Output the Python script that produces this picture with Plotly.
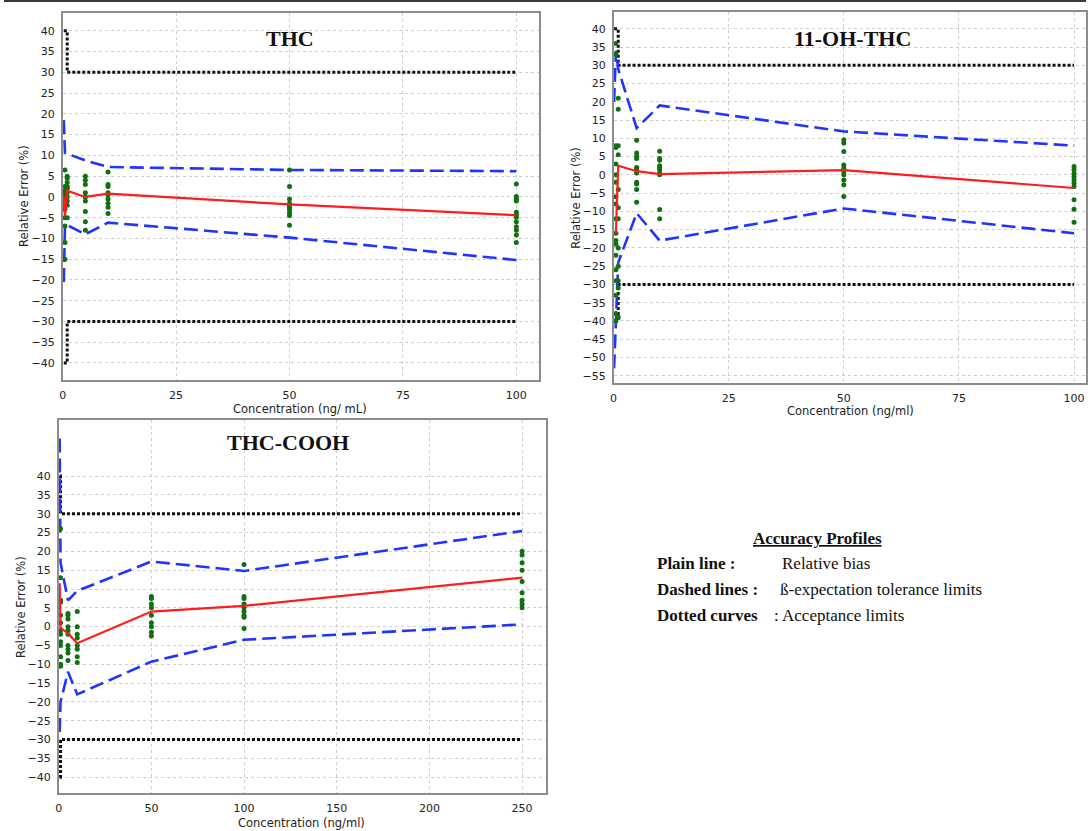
import plotly.graph_objects as go

# ---------------- THC ----------------
thc_levels = [0.25, 0.5, 1, 5, 10, 50, 100]
thc_bias = [0.0, -4.7, 1.5, 0.0, 0.8, -1.8, -4.4]
thc_upper = [18.5, 10.6, 10.4, 8.8, 7.2, 6.5, 6.2]
thc_lower = [-20.5, -7.2, -6.8, -9.0, -6.2, -9.8, -15.2]
thc_accept = [40, 40, 30, 30, 30, 30, 30]
thc_obs_levels = [0.5, 1, 5, 10, 50, 100]
thc_obs = [
    [6.5, 2.5, 1.5, 1, 0, -1, -2, -3, -5, -7, -11, -15],
    [5, 4.5, 3.5, 2.5, 2, 1, 0, -1, -2, -5],
    [5, 4, 3, 1, 0, -1, -3.5, -6, -8],
    [6, 3, 2.5, 1, 0.5, -0.5, -1.5, -2.5, -4],
    [6.5, 2.5, -0.5, -1.5, -2, -2.5, -3, -3.8, -4.5, -6.8],
    [3.1, 0.1, -0.5, -1, -3.7, -4.3, -4.9, -6, -7.2, -8, -9.2, -11],
]

# ---------------- 11-OH-THC ----------------
oh_levels = [0.1, 0.5, 1, 5, 10, 50, 100]
oh_bias = [None, -16, 2.5, 1.0, 0.2, 1.3, -3.6]
oh_upper = [20, 34, 29, 12.8, 19, 11.9, 8]
oh_lower = [-53, -41, -24, -10.5, -18, -9.2, -16]
oh_accept = [40, 40, 30, 30, 30, 30, 30]
oh_obs_levels = [0.5, 1, 5, 10, 50, 100]
oh_obs = [
    [36, 33, 8, 7.5, 3, 0, -2, -6, -8, -12, -16, -18, -19, -22, -26, -29, -33, -38, -40],
    [21, 18, 8, 5.5, -4, -9, -12, -20, -25, -29, -31, -39],
    [9.5, 6, 5, 4.5, 2, 1.5, 0.5, -2, -2.5, -4, -7.5],
    [6.5, 4.5, 4, 2.5, 2, 1.5, 0.5, 0, -9.5, -12],
    [9.6, 8.7, 6.4, 2.7, 1.8, 0.9, 0, -1.4, -2.7, -5.9],
    [2.3, 1.4, 0.4, -0.5, -1.4, -2.3, -3.2, -6.8, -9.4, -13],
]

# ---------------- THC-COOH ----------------
cooh_levels = [0.5, 1, 5, 10, 50, 100, 250]
cooh_bias = [11.5, -0.3, -1.8, -4.4, 4.0, 5.5, 13.0]
cooh_upper = [50, 17, 7, 9.5, 17.3, 14.8, 25.4]
cooh_lower = [-28, -20, -12, -18, -9.3, -3.5, 0.6]
cooh_accept = [40, 30, 30, 30, 30, 30, 30]
cooh_obs_levels = [1, 5, 10, 50, 100, 250]
cooh_obs = [
    [26, 13, 7, 6.5, 3, 1, -1, -2, -4, -5, -8, -10, -10.5],
    [3.5, 3, 2, 0, -1, -2, -5, -6, -7, -9],
    [4, 0, -2, -3, -5, -6, -8, -9.5],
    [8, 7.5, 6, 5, 3, 1, 0, -1.5, -2.5],
    [16.5, 8, 7.5, 6, 5, 4, 3, 2.5, -0.5],
    [20, 19, 17, 15, 12, 9, 7, 6, 5],
]

W, H = 1088, 831
RED = "#ff1c1c"
BLUE = "#1f35ff"
GREEN = "#107010"

fig = go.Figure()


def add_panel(xr, yr, levels, bias, upper, lower, accept, obs_levels, obs):
    # acceptance limits (dotted)
    for sign in (1, -1):
        fig.add_trace(go.Scatter(
            x=levels, y=[sign * a for a in accept], mode="lines",
            line=dict(color="#111111", width=3, dash="3px,2px", shape="hv"),
            xaxis=xr, yaxis=yr, hoverinfo="skip"))
    # tolerance limits (dashed)
    for lim in (upper, lower):
        fig.add_trace(go.Scatter(
            x=levels, y=lim, mode="lines",
            line=dict(color=BLUE, width=2.6, dash="14px,6px"),
            xaxis=xr, yaxis=yr, hoverinfo="skip"))
    # individual results
    px, py = [], []
    for lv, vals in zip(obs_levels, obs):
        px += [lv] * len(vals)
        py += vals
    fig.add_trace(go.Scatter(
        x=px, y=py, mode="markers",
        marker=dict(color=GREEN, size=5),
        xaxis=xr, yaxis=yr, hoverinfo="skip"))
    # relative bias
    fig.add_trace(go.Scatter(
        x=levels, y=bias, mode="lines",
        line=dict(color=RED, width=2.2),
        xaxis=xr, yaxis=yr, hoverinfo="skip"))


add_panel("x", "y", thc_levels, thc_bias, thc_upper, thc_lower, thc_accept,
          thc_obs_levels, thc_obs)
add_panel("x2", "y2", oh_levels, oh_bias, oh_upper, oh_lower, oh_accept,
          oh_obs_levels, oh_obs)
add_panel("x3", "y3", cooh_levels, cooh_bias, cooh_upper, cooh_lower, cooh_accept,
          cooh_obs_levels, cooh_obs)

tickfont = dict(family="DejaVu Sans", size=11, color="#222222")
axis_common = dict(
    showline=True, mirror=True, linecolor="#8c8c8c", linewidth=1.5,
    showgrid=True, gridcolor="#cfcfcf", griddash="dot", gridwidth=1,
    zeroline=False, ticks="", tickfont=tickfont, ticklabelstandoff=4,
    fixedrange=True,
)


def px_x(p):
    return p / W


def px_y(p):
    return 1 - p / H


fig.update_layout(
    width=W, height=H, margin=dict(l=0, r=0, t=0, b=0),
    paper_bgcolor="white", plot_bgcolor="white", showlegend=False,
    xaxis=dict(domain=[px_x(59), px_x(538)], range=[0, 105], anchor="y",
               tickvals=[0, 25, 50, 75, 100], **axis_common),
    yaxis=dict(domain=[px_y(380), px_y(13)], range=[-44.1, 44.3], anchor="x",
               tickvals=list(range(-40, 41, 5)), **axis_common),
    xaxis2=dict(domain=[px_x(613), 1.0], range=[0, 102.6], anchor="y2",
                tickvals=[0, 25, 50, 75, 100], **axis_common),
    yaxis2=dict(domain=[px_y(383), px_y(12)], range=[-57, 44.6], anchor="x2",
                tickvals=list(range(-55, 41, 5)), **axis_common),
    xaxis3=dict(domain=[px_x(55), px_x(545)], range=[0, 262.9], anchor="y3",
                tickvals=[0, 50, 100, 150, 200, 250], **axis_common),
    yaxis3=dict(domain=[px_y(793), px_y(420)], range=[-44.2, 54.9], anchor="x3",
                tickvals=list(range(-40, 41, 5)), **axis_common),
)

ann = []
title_font = dict(family="Liberation Serif", size=22, color="#111111")
for txt, cx, cy in [("<b>THC</b>", 288, 38), ("<b>11-OH-THC</b>", 853, 38),
                    ("<b>THC-COOH</b>", 286, 443)]:
    ann.append(dict(text=txt, x=px_x(cx), y=px_y(cy), xref="paper", yref="paper",
                    showarrow=False, font=title_font, xanchor="center", yanchor="middle"))

label_font = dict(family="DejaVu Sans", size=11.5, color="#222222")
for txt, cx, cy in [("Concentration (ng/ mL)", 298, 409),
                    ("Concentration (ng/ml)", 851, 411),
                    ("Concentration (ng/ml)", 299, 823)]:
    ann.append(dict(text=txt, x=px_x(cx), y=px_y(cy), xref="paper", yref="paper",
                    showarrow=False, font=label_font, xanchor="center", yanchor="middle"))
for cx, cy in [(20, 196), (575, 198), (17, 607)]:
    ann.append(dict(text="Relative Error (%)", x=px_x(cx), y=px_y(cy), xref="paper",
                    yref="paper", showarrow=False, font=label_font, textangle=-90,
                    xanchor="center", yanchor="middle"))

key_font = dict(family="Liberation Serif", size=17, color="#111111")
ann.append(dict(text="<b><u>Accuracy Profiles</u></b>", x=px_x(818), y=px_y(538),
                xref="paper", yref="paper", showarrow=False, font=key_font,
                xanchor="center", yanchor="middle"))
key_rows = [("<b>Plain line :</b>", "Relative bias", 563, 780),
            ("<b>Dashed lines :</b>", "ß-expectation tolerance limits", 589, 778),
            ("<b>Dotted curves </b>", ": Acceptance limits", 615, 772)]
for left, right, cy, rx in key_rows:
    ann.append(dict(text=left, x=px_x(655), y=px_y(cy), xref="paper", yref="paper",
                    showarrow=False, font=key_font, xanchor="left", yanchor="middle"))
    ann.append(dict(text=right, x=px_x(rx), y=px_y(cy), xref="paper", yref="paper",
                    showarrow=False, font=key_font, xanchor="left", yanchor="middle"))

fig.update_layout(annotations=ann)
fig.add_shape(type="line", xref="paper", yref="paper", x0=0, x1=1, y0=px_y(1), y1=px_y(1),
              line=dict(color="#3a3a3a", width=2))

fig.write_html("out.html")
